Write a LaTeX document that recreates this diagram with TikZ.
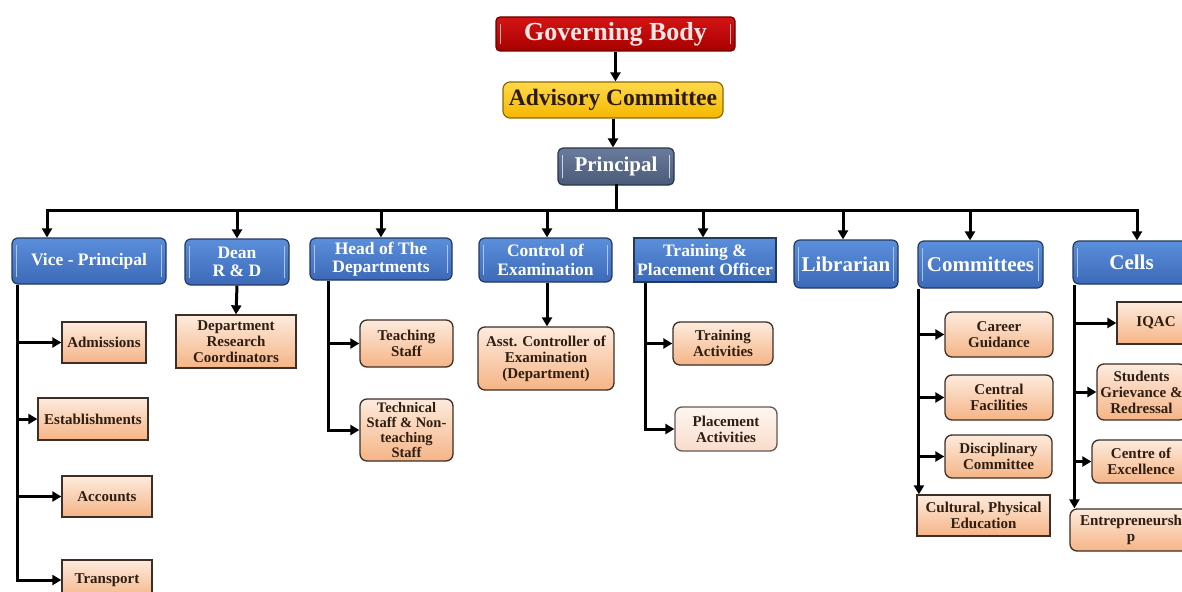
\documentclass[tikz,border=0pt]{standalone}
\usepackage{fontspec}
\setmainfont{Liberation Serif}
\usetikzlibrary{arrows.meta,calc}
\definecolor{barblue}{HTML}{A7C7F0}
\definecolor{bluetop}{HTML}{5B8FDB}
\definecolor{bluebot}{HTML}{3C69B8}
\definecolor{bluedark}{HTML}{23395D}
\definecolor{redtop}{HTML}{D41414}
\definecolor{redbot}{HTML}{A80000}
\definecolor{redline}{HTML}{6B0000}
\definecolor{redbar}{HTML}{F7A8A8}
\definecolor{redtext}{HTML}{FFE6E6}
\definecolor{yeltop}{HTML}{FFD84A}
\definecolor{yelbot}{HTML}{F5B800}
\definecolor{yelline}{HTML}{8C6A00}
\definecolor{yeltext}{HTML}{2A1A08}
\definecolor{prtop}{HTML}{6A7C9C}
\definecolor{prbot}{HTML}{4A5A78}
\definecolor{prline}{HTML}{2B3548}
\definecolor{prbar}{HTML}{C9D6EA}
\definecolor{peachtop}{HTML}{FDEBDD}
\definecolor{peachbot}{HTML}{F5B486}
\definecolor{peachline}{HTML}{3E2E26}
\definecolor{peachtext}{HTML}{2E1E12}
\definecolor{paletop}{HTML}{FEF6F1}
\definecolor{palebot}{HTML}{F9DCCB}
\tikzset{
  bars/.style={path picture={
    \draw[#1, line width=1.8pt] ([xshift=4.5pt,yshift=-7pt]path picture bounding box.north west) -- ([xshift=4.5pt,yshift=7pt]path picture bounding box.south west);
    \draw[#1, line width=1.8pt] ([xshift=-4.5pt,yshift=-7pt]path picture bounding box.north east) -- ([xshift=-4.5pt,yshift=7pt]path picture bounding box.south east);
  }},
  bluebox/.style={draw=bluedark, line width=1.2pt, rounded corners=6pt, top color=bluetop, bottom color=bluebot,
    text=white, font=\bfseries\fontsize{17.5}{18.5}\selectfont, align=center, inner sep=0pt},
  bigblue/.style={bluebox, font=\bfseries\fontsize{21}{22}\selectfont},
  peachbox/.style={draw=peachline, line width=1.3pt, top color=peachtop, bottom color=peachbot,
    text=peachtext, font=\bfseries\fontsize{15}{16}\selectfont, align=center, inner sep=0pt},
  rnd/.style={rounded corners=7pt},
  wire/.style={line width=3pt, line cap=rect},
  conn/.style={line width=3pt, -{Triangle[length=9pt,width=10pt]}},
}
\begin{document}
\begin{tikzpicture}[x=1pt,y=-1pt]
\useasboundingbox (0,0) rectangle (1182,591);
\fill[white] (0,0) rectangle (1182,591);

% top chain
\node[draw=redline, line width=1.2pt, rounded corners=4pt, top color=redtop, bottom color=redbot, bars=redbar,
  text=redtext, font=\bfseries\fontsize{26}{28}\selectfont, inner sep=0pt,
  minimum width=239pt, minimum height=34pt] (GB) at (615.5,34) {Governing Body};
\node[draw=yelline, line width=1.2pt, rounded corners=7pt, top color=yeltop, bottom color=yelbot,
  text=yeltext, font=\bfseries\fontsize{23.5}{25}\selectfont, inner sep=0pt,
  minimum width=220pt, minimum height=36pt] (AC) at (613,100) {Advisory Committee};
\node[draw=prline, line width=1.2pt, rounded corners=5pt, top color=prtop, bottom color=prbot, bars=prbar,
  text=white, font=\bfseries\fontsize{21}{22}\selectfont, inner sep=0pt,
  minimum width=116pt, minimum height=37pt] (PR) at (616,166.5) {Principal};

% second row
\node[bluebox, bars=barblue, minimum width=154pt, minimum height=46pt] (VP) at (89,261) {Vice - Principal};
\node[bluebox, bars=barblue, minimum width=104pt, minimum height=46pt] (Dean) at (237,262) {Dean\\R \& D};
\node[bluebox, bars=barblue, minimum width=142pt, minimum height=42pt] (HOD) at (381,259) {Head of The\\Departments};
\node[bluebox, bars=barblue, minimum width=133pt, minimum height=44pt] (CoE) at (545.5,260) {Control of\\Examination};
\node[bluebox, rounded corners=0pt, minimum width=142pt, minimum height=44pt] (TPO) at (705,260) {Training \&\\Placement Officer};
\node[bigblue, bars=barblue, minimum width=104pt, minimum height=48pt] (Lib) at (846,264) {Librarian};
\node[bigblue, bars=barblue, minimum width=125pt, minimum height=47pt] (Com) at (980.5,264.5) {Committees};
\node[bigblue, bars=barblue, minimum width=117pt, minimum height=43pt] (Cells) at (1131.5,262.5) {Cells};

% third row
\node[peachbox, minimum width=84pt, minimum height=41pt] (Adm) at (104,342.5) {Admissions};
\node[peachbox, minimum width=110pt, minimum height=42pt] (Est) at (93,419) {Establishments};
\node[peachbox, minimum width=90pt, minimum height=41pt] (Acc) at (107,496.5) {Accounts};
\node[peachbox, minimum width=90pt, minimum height=40pt] (Trans) at (107,580) {Transport};
\node[peachbox, minimum width=120pt, minimum height=53pt] (DRC) at (236,341.5) {Department\\Research\\Coordinators};
\node[peachbox, rnd, minimum width=93pt, minimum height=47pt] (Teach) at (406.5,343.5) {Teaching\\Staff};
\node[peachbox, rnd, font=\bfseries\fontsize{14.5}{15}\selectfont, minimum width=93pt, minimum height=62pt] (Tech) at (406.5,430) {Technical\\Staff \& Non-\\teaching\\Staff};
\node[peachbox, rnd, minimum width=136pt, minimum height=63pt] (Asst) at (546,358.5) {Asst. Controller of\\Examination\\(Department)};
\node[peachbox, rnd, minimum width=100pt, minimum height=43pt] (TrA) at (723,343.5) {Training\\Activities};
\node[peachbox, rnd, top color=paletop, bottom color=palebot, draw=peachline!80, minimum width=102pt, minimum height=44pt] (PlA) at (726,429) {Placement\\Activities};
\node[peachbox, rnd, minimum width=108pt, minimum height=45pt] (Car) at (999,334.5) {Career\\Guidance};
\node[peachbox, rnd, minimum width=108pt, minimum height=45pt] (Cen) at (999,397.5) {Central\\Facilities};
\node[peachbox, rnd, minimum width=107pt, minimum height=43pt] (Dis) at (998.5,456.5) {Disciplinary\\Committee};
\node[peachbox, minimum width=133pt, minimum height=41pt] (Cult) at (983.5,515.5) {Cultural, Physical\\Education};
\node[peachbox, minimum width=78pt, minimum height=42pt] (IQAC) at (1156,323) {IQAC};
\node[peachbox, rnd, minimum width=89pt, minimum height=56pt] (SGR) at (1141.5,392) {Students\\Grievance \&\\Redressal};
\node[peachbox, rnd, minimum width=98pt, minimum height=43pt] (CoEx) at (1141,461.5) {Centre of\\Excellence};
\node[peachbox, rnd, minimum width=122pt, minimum height=42pt] (Ent) at (1131,530) {Entrepreneursh\\p};

% top connectors
\draw[conn] (GB.south) -- (GB.south |- AC.north);
\draw[conn] (AC.south) -- (AC.south |- PR.north);

% bus
\coordinate (bVP) at (47,210);
\coordinate (bDean) at (237,210);
\coordinate (bHOD) at (381,210);
\coordinate (bCoE) at (547,210);
\coordinate (bTPO) at (703,210);
\coordinate (bLib) at (843,210);
\coordinate (bCom) at (970,210);
\coordinate (bCells) at (1137,210);
\draw[wire] (PR.south) -- (PR.south |- bVP);
\draw[wire] (bVP) -- (bCells);
\draw[conn] (bVP) -- (bVP |- VP.north);
\draw[conn] (bDean) -- (bDean |- Dean.north);
\draw[conn] (bHOD) -- (bHOD |- HOD.north);
\draw[conn] (bCoE) -- (bCoE |- CoE.north);
\draw[conn] (bTPO) -- (bTPO |- TPO.north);
\draw[conn] (bLib) -- (bLib |- Lib.north);
\draw[conn] (bCom) -- (bCom |- Com.north);
\draw[conn] (bCells) -- (bCells |- Cells.north);

% vice principal
\coordinate (vpS) at ($(VP.south west)+(6,0)$);
\draw[conn] (vpS) |- (Trans.west);
\draw[conn] (vpS |- Adm.west) -- (Adm.west);
\draw[conn] (vpS |- Est.west) -- (Est.west);
\draw[conn] (vpS |- Acc.west) -- (Acc.west);

% dean, control of examination
\draw[conn] (Dean.south) -- (DRC.north);
\draw[conn] (CoE.south -| bCoE) -- (bCoE |- Asst.north);

% head of departments
\coordinate (hodS) at ($(HOD.south west)+(19,0)$);
\draw[conn] (hodS) |- (Tech.west);
\draw[conn] (hodS |- Teach.west) -- (Teach.west);

% training & placement
\coordinate (tpoS) at ($(TPO.south west)+(12,0)$);
\draw[conn] (tpoS) |- (PlA.west);
\draw[conn] (tpoS |- TrA.west) -- (TrA.west);

% committees
\coordinate (comS) at ($(Com.south west)+(1.5,0)$);
\draw[conn] (comS) -- (comS |- Cult.north);
\draw[conn] (comS |- Car.west) -- (Car.west);
\draw[conn] (comS |- Cen.west) -- (Cen.west);
\draw[conn] (comS |- Dis.west) -- (Dis.west);

% cells
\coordinate (celS) at ($(Cells.south west)+(2,0)$);
\draw[conn] (celS) -- (celS |- Ent.north);
\draw[conn] (celS |- IQAC.west) -- (IQAC.west);
\draw[conn] (celS |- SGR.west) -- (SGR.west);
\draw[conn] (celS |- CoEx.west) -- (CoEx.west);
\end{tikzpicture}
\end{document}
